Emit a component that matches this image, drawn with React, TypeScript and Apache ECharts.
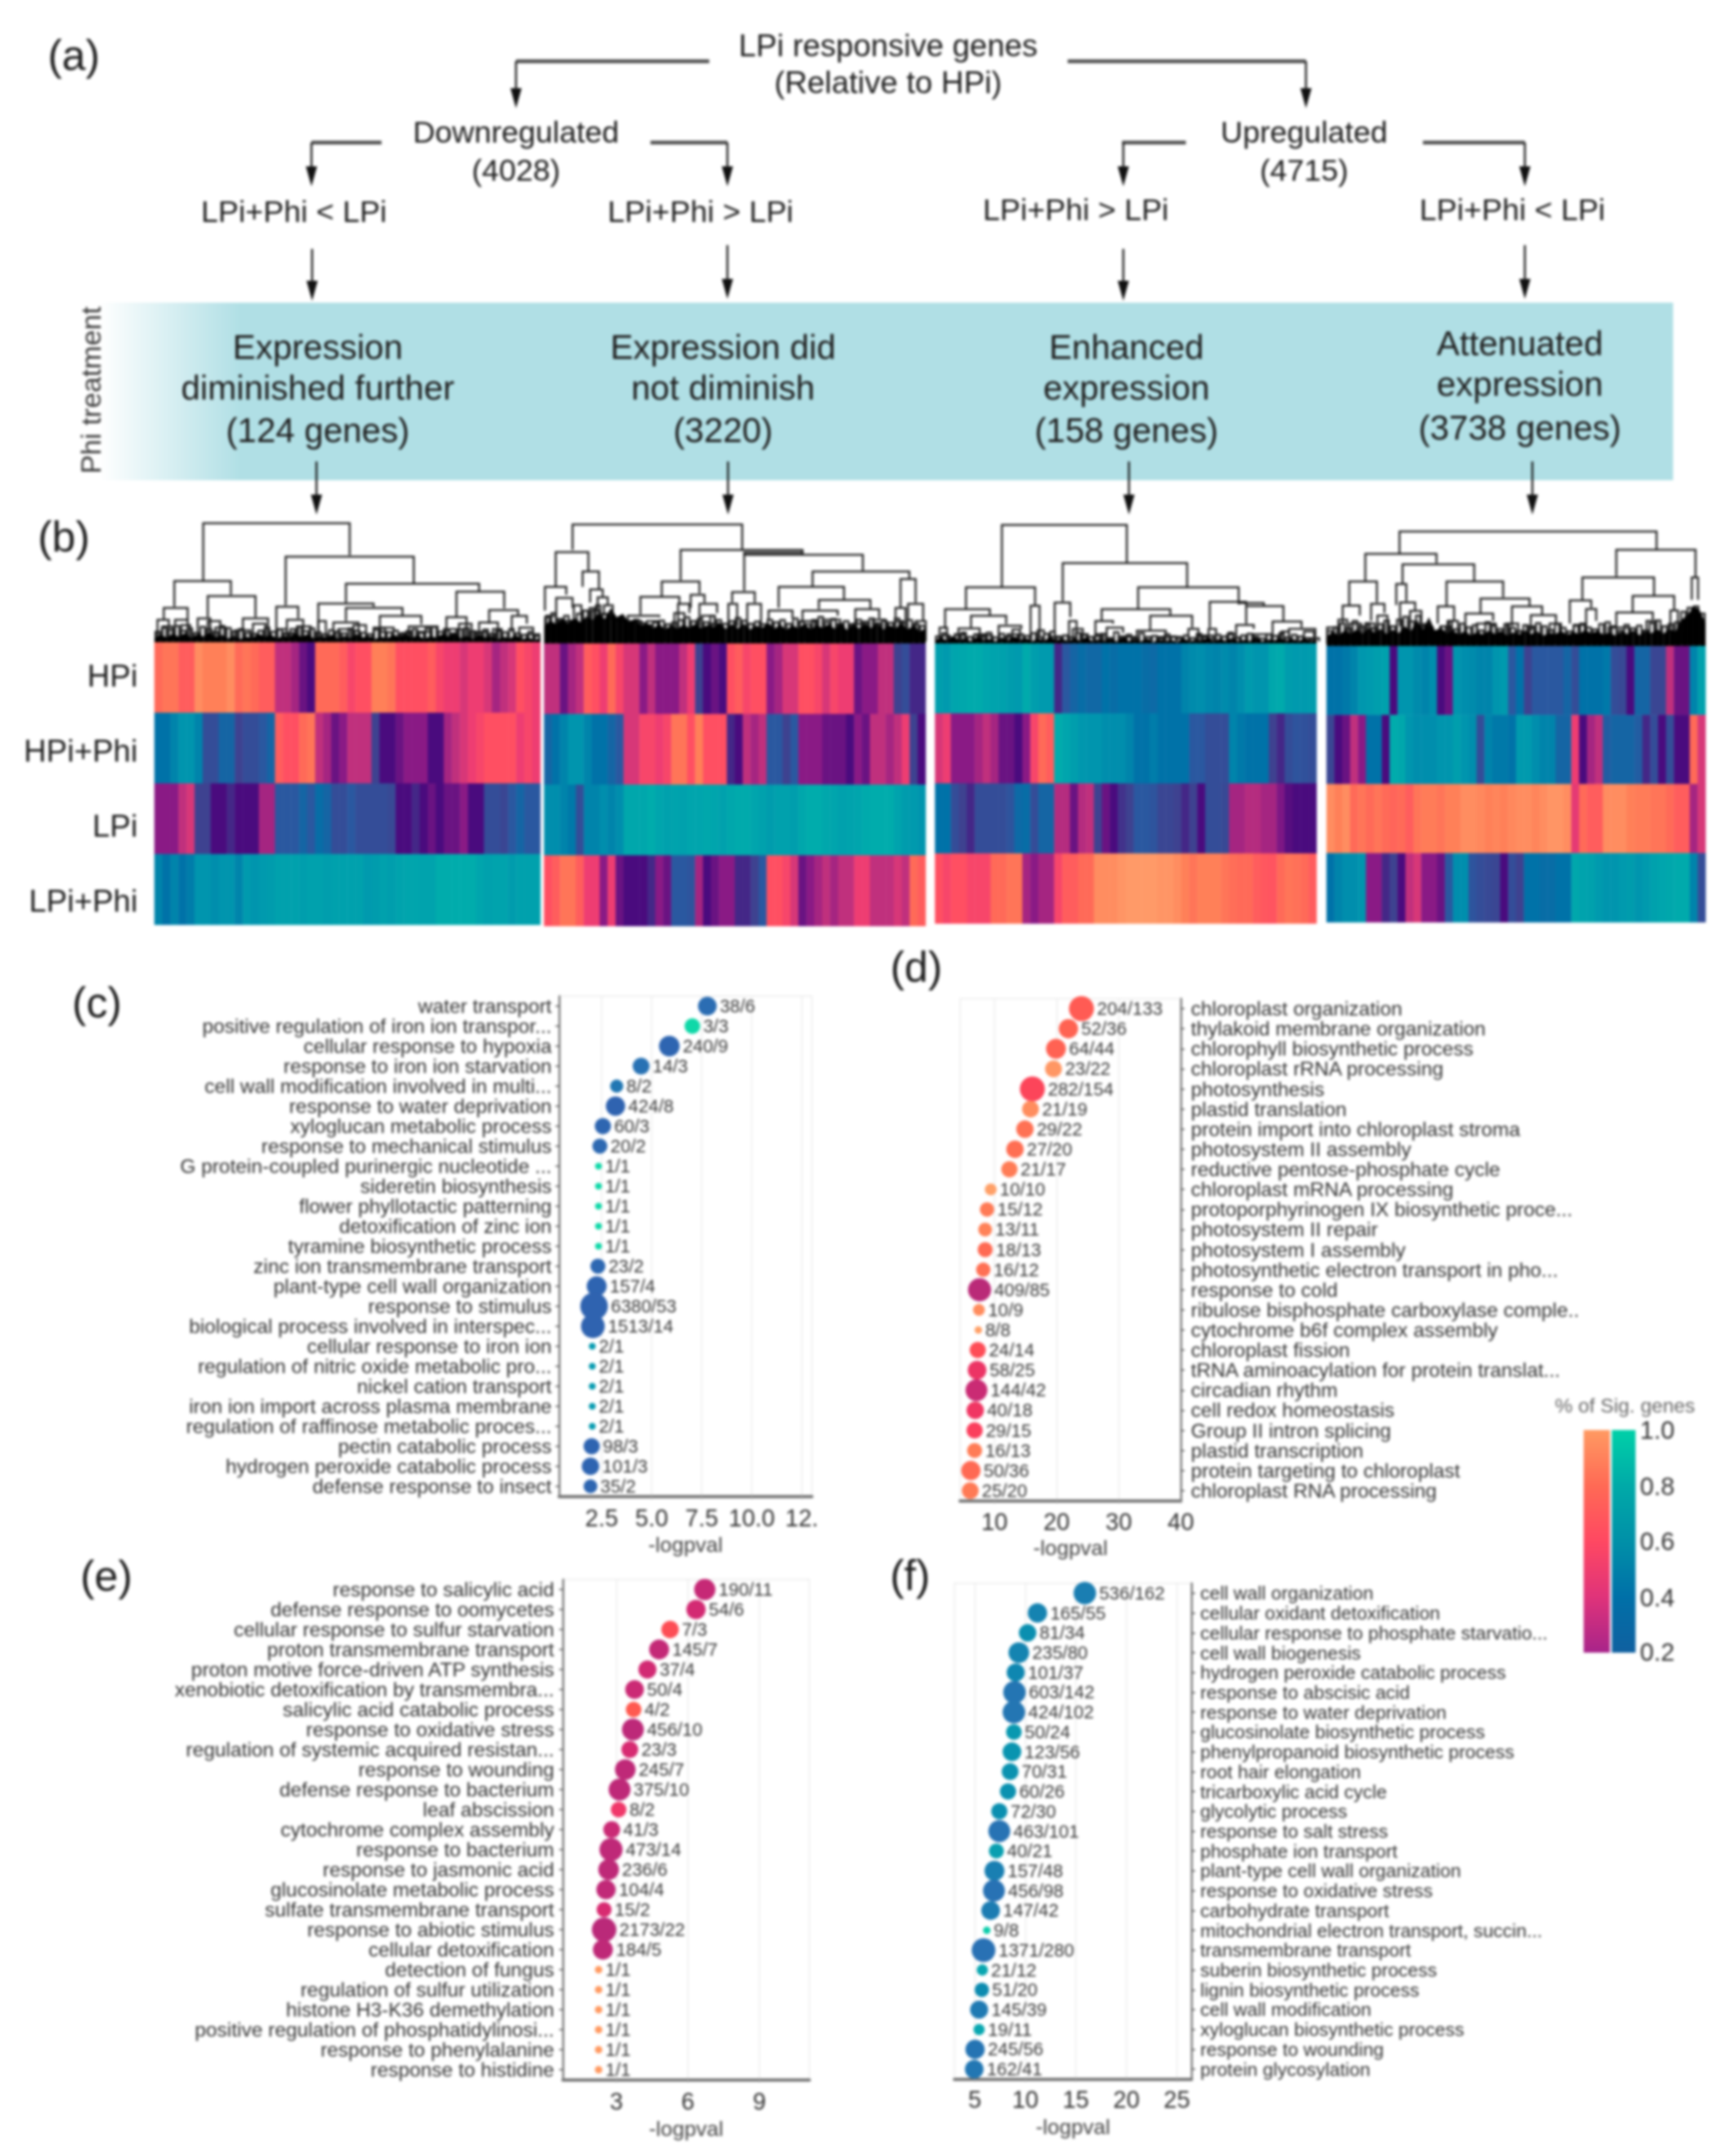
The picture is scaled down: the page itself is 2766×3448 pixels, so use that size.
import React, { useEffect, useRef } from "react";
import * as echarts from "echarts";

const FONT = '"Liberation Sans", Arial, sans-serif';
const rowNames = ["HPi", "HPi+Phi", "LPi", "LPi+Phi"];

// ---- heatmap strips (expression scale 0 teal ... 12 light orange), 48 strips per panel
const p1HPi = [10,10.5,10.5,9.5,9.5,11.5,11,11,11,11.5,10,10.5,10,9.5,9.5,7,7,6.5,5.5,5,10,10,10,9.5,8.5,9,9,11,11,10.5,9,9,9,9,9.5,8.5,8,8,7.5,8,8,7.5,6.5,7,7.5,9,8.5,8];
const p1HPiPhi = [2,2,1.5,1,1,1.5,3.5,3.5,2.5,2.5,4,3.5,3.5,3,2.5,9.5,9,9,10,10.5,7,6.5,5.5,6,7,7,7,4,5,5,5.5,6,6,6,5,5,6.5,7,7.5,8,8.5,9,9,9,9,8,8.5,8];
const p1LPi = [6,6,6,7,7.5,4,4,5,5,4.5,5,5,5,6.5,6.5,3,3,3,2.5,3,2.2,2.5,3.5,3.5,3,3.5,3.5,3.5,3.5,3.7,5,5,4.5,5,5.5,5,5.5,5.5,6,5,5,3.5,3.5,3.8,3,2.5,3,3];
const p1LPiPhi = [1.5,2,1.5,2,1.7,1,1,1.2,1,1,1.5,0.8,1,0.8,0.7,0.5,0.5,0.5,0.6,0.5,0.5,0.6,0.5,0.5,0.5,0.5,0.8,0.7,0.5,0.6,0.4,0.3,0.3,0.4,0.4,0,0,0,0,0,0.3,0.5,0.4,0.4,0.7,0.5,0.5,0.5];

const p2HPi = [7,7,5.5,6.5,7,9.5,9,8,10,8.5,7.5,7.5,6,7,6,6,6,7,8,4,5,5.5,5,9,9.5,8.5,9,9,6,6.5,7.5,7.5,9,9,8.5,7.5,8.5,8,8,5.5,6,6,7,7,4,3.5,4.5,4.5];
const p2HPiPhi = [2.5,2,1.5,1,1,1.5,2,2,2.5,3,7.5,7.5,8.5,8.5,8,8.5,10.5,10.5,9,11,9,9,9,4.5,5,7,6.5,7,3,3,4,3,6,6,6,5.5,5.5,5.5,5,6,5.5,7,7,6.5,7,8,4,5];
const p2LPi = [1.2,1.2,1.5,1.8,3.5,1.5,1.5,1.2,1.5,1.2,0.2,0.2,0.2,0,0.3,0.5,0.4,0.5,0.3,0.3,0.2,0.3,0.5,0.2,0.1,0.1,0.3,0.5,0.7,0.5,0.5,0.6,0.2,0,0,0.2,0.3,0.5,0.4,0.3,0.1,0,0,0,0.4,0.7,0.8,1];
const p2LPiPhi = [9,9.5,10.5,10.5,9.5,8,8,6,8,5.5,5,5,5,4.5,6,5.5,3,3,3.2,6.5,5,5.5,6,6,4.5,4.5,4,3,9,9,8.5,7.5,5.5,6,6.5,7,6.5,7,7,8,8,7,7,7,7.5,7,10,9.5];

const p3HPi = [0.6,0.8,0.3,0.2,0.1,0.1,0.3,0.4,0.5,0.7,0.8,0.1,0.6,0.8,0.8,4.5,3,2.5,2.2,2.4,2.4,2,2.2,2,2,2,2.2,2.3,2,2,2,1.5,1.3,1.2,1.4,1.5,1.3,1.5,1.2,0.8,1,1,0.2,0.1,0.7,0.8,0.8,0.7];
const p3HPiPhi = [7.5,8,6,6,6,6.5,7,6.5,5.5,5.5,5,6,8.5,10,9.5,0,0.3,0.6,0.9,1,1,1.2,1.2,1.2,1.5,2,2,1.7,2,2,2,2,3,3,3.5,3.5,3.5,1.5,1.8,2,2,2,4,4.5,3.5,3.2,3.3,3.5];
const p3LPi = [2,2,3.5,4,4.5,3.5,3.5,3.5,3.5,3.2,2.3,2.2,3.5,2.5,2.5,6.8,6.8,5.5,6.8,7,4,5.5,5,4.3,4,3,3,3.2,3.8,3.8,4,4.5,4,5,3.5,3.5,3.7,6.5,6.5,6.8,6.8,6.5,6.5,5.8,5.2,5,5,5];
const p3LPiPhi = [9,8.5,9,9,8.5,8.5,8.5,10,10,10.5,10.5,6.5,6,6.5,6.5,8.5,9.5,9.5,10,10,11.5,11.5,11.5,11.8,12,12,12,12,11.8,11.8,11.5,11,10.5,11,11,11,10.5,10.2,10,10,9.5,9.3,9.2,10,10.5,10.3,10,9.5];

const p4HPi = [2,2,1.8,1.5,0.9,0.8,0.6,0.5,5,1,1,1.3,1.5,1.2,5,5.5,1,1.2,1.3,1.5,1.5,1,0.8,3,2,4,3,3,3,3,2.5,3.5,2,2,2,1.8,3.5,3.7,5,2.5,2.5,3.8,3.8,7,5.5,5.5,1.5,0.5];
const p4HPiPhi = [3.8,5,5.5,7,6,2,2,5,0,0.2,1,1.2,1.2,1.2,1,1,0.6,1,1.2,3.5,1.5,1.8,1.8,2,0.8,0.8,1.2,1.5,1.5,2.5,2.5,8,5,6.5,7,2.8,2.5,2.5,2.5,2.8,4.5,3.5,5,3.5,5,5,10,7.5];
const p4LPi = [11.5,11,11.5,10,10.5,10,10.5,10,9.8,10,9.5,10.5,10.8,10.8,10.5,11,11,11.5,11.5,11.3,11,11.2,11,11.3,11.5,11.5,11.2,11.5,11.8,11.8,11.5,7.8,10,9.5,9.5,11.5,11.5,11.5,11,10.8,10.8,10.5,10.5,10,9.5,9.5,6.5,7.5];
const p4LPiPhi = [2,1.5,1.2,1.2,1,6,6,4.5,4,5,7,7.5,6,6,5.5,3,1.2,1.2,3.2,3.5,3.7,3.8,5,3.5,4,2,2,2.2,2.2,2,2,0.2,0.4,0.5,0.8,1,1,0.8,0.7,1,0.8,0.5,0.3,0.2,0.1,0.1,1.5,3.5];

const heatColors = ["#00acac","#0095ae","#0072a8","#2a58a0","#3e4290","#4a0b7e","#8a1a85","#c0307d","#ee3d72","#ff4f62","#ff6a58","#ff8058","#ff9a68"];

// ---- dendrograms: merges [leftLeaf, rightLeaf, mergeDepth, leftDrop, rightDrop]
const d1Links = [[212,795,28,245,150],[97,322,248,345,300],[230,420,305,385,385],[55,150,350,395,395],[540,1050,155,340,258],[503,590,345,460,390],[780,1310,258,330,285],[670,890,333,460,345],[780,1005,350,400,378],[915,1080,380,440,412],[1220,1410,288,385,352],[1350,1465,358,410,380],[1440,1500,380,440,410]];
const d1Forks = [[30,75,395],[100,150,395],[50,90,420],[125,160,415],[190,240,390],[230,280,400],[260,305,425],[340,400,435],[370,470,390],[410,460,410],[505,545,430],[545,610,395],[525,570,445],[590,640,420],[670,700,400],[730,830,405],[750,800,430],[810,860,415],[890,970,425],[915,940,440],[1030,1145,420],[1060,1120,440],[1000,1040,445],[1180,1260,385],[1170,1220,430],[1230,1280,410],[1310,1385,405],[1290,1340,440],[1365,1400,430],[1470,1525,425],[1500,1550,450]];
const d1Twigs = [440,425,432,418,436,428,445,422,430,440,418,426,438,430,445,448,436,425,440,432,446,430,420,438,428,442,450,434,440,446,428,436,444,450,432,426,442,436,448,438,430,444,428,422,440,434,446,430,426,438,444,432,448,436,442,430,446,452,440,456];
const d1Mass = [466,452,462,448,460,445,464,450,458,444,462,452,466,456,468,460,464,448,460,452,466,456,462,446,460,450,466,458,462,452,468,456,464,450,462,456,468,460,466,452,460,448,464,454,468,458,462,450,458,446,464,456,468,452,462,456,470,460,466,454,470,462,472,464];

const d2Links = [[125,800,33,130,128],[58,188,138,270,210],[165,230,212,270,280],[15,100,270,360,300],[60,125,312,380,350],[195,245,280,330,310],[225,265,310,360,340],[250,285,340,380,365],[555,1040,130,245,145],[808,1280,148,285,208],[808,1040,140,148,148],[480,630,250,305,295],[395,550,308,375,335],[545,590,335,400,370],[595,650,300,350,330],[630,700,335,420,370],[345,470,380,430,385],[760,850,290,330,330],[745,780,335,420,420],[820,875,335,420,420],[1080,1465,212,268,240],[945,1205,270,350,318],[1105,1310,320,355,352],[1430,1490,240,350,330],[905,1000,360,400,390],[1040,1180,360,400,380],[1250,1345,355,410,390],[1410,1450,350,400,400],[1460,1520,335,400,400]];
const d2Forks = [[20,60,380],[60,110,400],[130,160,340],[200,230,360],[350,400,400],[420,470,400],[530,570,370],[640,690,380],[680,710,410],[1030,1090,400],[1120,1190,395],[1240,1290,410],[1320,1370,395],[1410,1440,400],[1490,1530,400]];
const d2Twigs = [385,370,392,380,398,372,360,350,340,372,388,396,402,410,395,408,415,405,398,412,404,396,385,400,392,404,380,396,410,400,388,398,410,402,412,395,404,396,410,390,402,412,396,384,405,392,410,400,412,395,402,390,408,398,406,390,404,396,410,418];
const d2Mass = [420,398,412,392,410,388,405,382,396,370,392,350,385,372,405,395,418,408,428,412,432,416,430,414,426,410,428,415,424,408,430,412,428,410,432,418,426,406,430,414,434,416,428,410,432,416,426,412,430,408,434,414,428,412,426,408,432,416,428,410,432,418,440,428];

const d3Links = [[278,775,35,270,178],[135,410,272,352,340],[52,230,355,430,378],[155,295,380,425,412],[265,355,418,460,430],[392,428,342,460,460],[520,1015,180,325,270],[488,550,330,455,385],[820,1220,272,352,325],[675,948,355,400,380],[868,1035,380,435,425],[650,720,400,470,410],[695,760,425,470,445],[1105,1250,327,425,345],[1250,1398,343,410,400],[1220,1320,331,337,343],[1210,1280,415,460,430],[1355,1470,402,460,425],[1420,1525,430,470,460]];
const d3Forks = [[30,60,425],[105,190,428],[180,215,450],[320,350,432],[420,445,435],[545,575,400],[560,600,430],[590,620,450],[815,930,436],[1020,1060,430],[1100,1130,430],[1175,1210,450],[1390,1420,440],[1480,1520,440],[40,70,455],[90,130,450],[200,240,455],[300,340,450],[470,510,460],[650,680,450],[760,810,460],[900,990,460],[1060,1120,455],[1280,1330,450],[1500,1540,465]];
const d3Twigs = [458,446,462,452,444,460,450,456,444,462,448,458,464,450,456,446,462,448,440,458,454,462,444,452,460,456,448,464,442,458,452,464,446,460,456,466,450,458,462,454,464,448,460,466,452,458,444,462,454,448,460,466,450,456,446,462,452,458,464,468];
const d3Mass = [474,462,476,458,474,466,478,460,474,468,478,462,476,458,474,464,478,466,476,460,474,468,478,466,476,460,478,470,476,466,478,462,476,470,478,466,480,470,478,472,480,466,478,472,476,462,478,468,476,464,478,472,476,462,478,470,474,466,476,468,478,464,478,470];

const d4Links = [[318,1340,60,145,128],[182,465,145,250,180],[330,615,185,260,250],[118,228,250,340,330],[92,160,342,410,380],[205,258,335,400,370],[505,730,250,345,310],[640,835,315,370,345],[305,345,260,340,325],[320,380,330,420,360],[360,405,362,440,410],[470,535,345,410,400],[580,690,372,430,400],[765,885,345,420,380],[840,940,378,440,410],[1180,1495,130,230,235],[1045,1330,235,320,305],[1245,1410,305,365,360],[1180,1325,368,430,395],[995,1080,322,410,350],[1060,1100,355,420,400],[1480,1505,235,320,320],[1395,1425,360,430,430]];
const d4Forks = [[30,70,425],[75,110,395],[120,165,410],[190,220,410],[230,270,380],[400,430,420],[480,520,420],[515,550,400],[625,700,410],[745,790,410],[825,860,420],[915,960,410],[1010,1060,415],[1150,1230,425],[1300,1340,400]];
const d4Twigs = [438,424,410,428,400,420,408,426,412,398,420,395,384,402,380,412,425,438,420,400,432,410,424,416,436,405,418,430,412,426,438,416,428,408,420,434,412,426,440,418,410,425,432,412,405,420,436,415,428,418,436,408,398,420,412,405,365,350,345,372];
const d4Mass = [462,440,456,436,450,432,448,428,446,430,450,434,446,420,440,395,435,385,438,425,448,436,452,438,456,442,452,436,450,438,456,444,452,436,450,440,456,446,450,438,454,442,450,434,448,438,452,444,456,440,450,436,454,440,446,432,448,430,440,395,378,345,358,410];

// ---- dot plot (c)
const cTerms = ["water transport","positive regulation of iron ion transpor...","cellular response to hypoxia","response to iron ion starvation","cell wall modification involved in multi...","response to water deprivation","xyloglucan metabolic process","response to mechanical stimulus","G protein-coupled purinergic nucleotide ...","sideretin biosynthesis","flower phyllotactic patterning","detoxification of zinc ion","tyramine biosynthetic process","zinc ion transmembrane transport","plant-type cell wall organization","response to stimulus","biological process involved in interspec...","cellular response to iron ion","regulation of nitric oxide metabolic pro...","nickel cation transport","iron ion import across plasma membrane","regulation of raffinose metabolic proces...","pectin catabolic process","hydrogen peroxide catabolic process","defense response to insect"];
const cLogp = [7.78,7.03,5.88,4.47,3.25,3.19,2.56,2.41,2.34,2.34,2.34,2.34,2.34,2.31,2.25,2.12,2.06,2.03,2.03,2.03,2.03,2.03,2.0,1.94,1.94];
const cCounts = ["38/6","3/3","240/9","14/3","8/2","424/8","60/3","20/2","1/1","1/1","1/1","1/1","1/1","23/2","157/4","6380/53","1513/14","2/1","2/1","2/1","2/1","2/1","98/3","101/3","35/2"];
const cSizes = [30,25,33,27,21,31,26,24,11,11,11,11,11,24,32,44,38,11,11,11,11,11,26,28,22];
const cTicks = [2.5,5,7.5,10,12.5];
const cTickLabels = ["2.5","5.0","7.5","10.0","12."];

// ---- dot plot (d)
const dTerms = ["chloroplast organization","thylakoid membrane organization","chlorophyll biosynthetic process","chloroplast rRNA processing","photosynthesis","plastid translation","protein import into chloroplast stroma","photosystem II assembly","reductive pentose-phosphate cycle","chloroplast mRNA processing","protoporphyrinogen IX biosynthetic proce...","photosystem II repair","photosystem I assembly","photosynthetic electron transport in pho...","response to cold","ribulose bisphosphate carboxylase comple..","cytochrome b6f complex assembly","chloroplast fission","tRNA aminoacylation for protein translat...","circadian rhythm","cell redox homeostasis","Group II intron splicing","plastid transcription","protein targeting to chloroplast","chloroplast RNA processing"];
const dLogp = [24.0,21.9,19.9,19.5,16.1,15.8,14.9,13.3,12.4,9.4,8.8,8.5,8.5,8.2,7.6,7.5,7.4,7.3,7.2,7.1,6.9,6.8,6.8,6.2,6.1];
const dCounts = ["204/133","52/36","64/44","23/22","282/154","21/19","29/22","27/20","21/17","10/10","15/12","13/11","18/13","16/12","409/85","10/9","8/8","24/14","58/25","144/42","40/18","29/15","16/13","50/36","25/20"];
const dSizes = [40,31,32,27,40,27,28,28,26,19,23,22,24,23,37,19,12,26,30,35,28,26,24,31,27];
const dTicks = [10,20,30,40];
const dTickLabels = ["10","20","30","40"];

// ---- dot plot (e)
const eTerms = ["response to salicylic acid","defense response to oomycetes","cellular response to sulfur starvation","proton transmembrane transport","proton motive force-driven ATP synthesis","xenobiotic detoxification by transmembra...","salicylic acid catabolic process","response to oxidative stress","regulation of systemic acquired resistan...","response to wounding","defense response to bacterium","leaf abscission","cytochrome complex assembly","response to bacterium","response to jasmonic acid","glucosinolate metabolic process","sulfate transmembrane transport","response to abiotic stimulus","cellular detoxification","detection of fungus","regulation of sulfur utilization","histone H3-K36 demethylation","positive regulation of phosphatidylinosi...","response to phenylalanine","response to histidine"];
const eLogp = [6.71,6.34,5.25,4.79,4.30,3.76,3.72,3.69,3.56,3.37,3.13,3.09,2.80,2.77,2.67,2.56,2.48,2.48,2.43,2.25,2.25,2.25,2.25,2.25,2.25];
const eCounts = ["190/11","54/6","7/3","145/7","37/4","50/4","4/2","456/10","23/3","245/7","375/10","8/2","41/3","473/14","236/6","104/4","15/2","2173/22","184/5","1/1","1/1","1/1","1/1","1/1","1/1"];
const eSizes = [34,31,28,32,29,30,25,35,27,33,35,25,27,37,33,31,24,39,32,12,12,12,12,12,12];
const eTicks = [3,6,9];
const eTickLabels = ["3","6","9"];

// ---- dot plot (f)
const fTerms = ["cell wall organization","cellular oxidant detoxification","cellular response to phosphate starvatio...","cell wall biogenesis","hydrogen peroxide catabolic process","response to abscisic acid","response to water deprivation","glucosinolate biosynthetic process","phenylpropanoid biosynthetic process","root hair elongation","tricarboxylic acid cycle","glycolytic process","response to salt stress","phosphate ion transport","plant-type cell wall organization","response to oxidative stress","carbohydrate transport","mitochondrial electron transport, succin...","transmembrane transport","suberin biosynthetic process","lignin biosynthetic process","cell wall modification","xyloglucan biosynthetic process","response to wounding","protein glycosylation"];
const fLogp = [15.89,11.2,10.23,9.36,9.05,8.93,8.87,8.87,8.68,8.5,8.29,7.43,7.43,7.14,6.95,6.9,6.57,6.19,5.87,5.75,5.7,5.43,5.43,5.03,4.95];
const fCounts = ["536/162","165/55","81/34","235/80","101/37","603/142","424/102","50/24","123/56","70/31","60/26","72/30","463/101","40/21","157/48","456/98","147/42","9/8","1371/280","21/12","51/20","145/39","19/11","245/56","162/41"];
const fSizes = [36,31,28,33,29,36,36,25,30,27,26,26,35,24,32,35,30,12,38,18,23,29,18,31,30];
const fTicks = [5,10,15,20,25];
const fTickLabels = ["5","10","15","20","25"];

// colour scales of the fraction of significant genes
const coolScale = ["#2f62b0","#2a70b4","#0a8cb0","#08aab0","#08c4ae","#10d8a8"];
const warmScaleD = ["#b82a78","#cc2b74","#e63068","#fa3c5e","#ff5056","#ff6552","#ff7a55","#ff8c5e","#ffa068"];
const warmScaleE = ["#b8297a","#d62a72","#f0386a","#fb4458","#ff5a50","#ff6a52","#ff7a55","#ff8a5c","#ff9a62"];
const legendTicks = ["1.0","0.8","0.6","0.4","0.2"];

function txt(text: string, x: number, y: number, size: number, extra: any = {}) {
  return {
    type: "text", x, y, silent: true,
    style: { text, fill: extra.fill || "#1e1e1e", font: `${size}px ${FONT}`, textAlign: extra.align || "center", textVerticalAlign: "middle" },
    rotation: extra.rotation || 0,
  };
}
function hline(x1: number, x2: number, y: number, w = 6, c = "#505050") {
  return { type: "line", silent: true, shape: { x1, y1: y, x2, y2: y }, style: { stroke: c, lineWidth: w } };
}
function arrow(x: number, y1: number, y2: number) {
  return [
    { type: "line", silent: true, shape: { x1: x, y1, x2: x, y2: y2 - 20 }, style: { stroke: "#111", lineWidth: 3 } },
    { type: "polygon", silent: true, shape: { points: [[x - 9, y2 - 32], [x + 9, y2 - 32], [x, y2]] }, style: { fill: "#111" } },
  ];
}

const panels = [
  { rows: [p1HPi, p1HPiPhi, p1LPi, p1LPiPhi], links: d1Links, forks: d1Forks, twigs: d1Twigs, mass: d1Mass, x0: 247, x1: 864, yHeat0: 1027, yHeat1: 1479, leaf0: 18, leaf1: 1554, base: 480 },
  { rows: [p2HPi, p2HPiPhi, p2LPi, p2LPiPhi], links: d2Links, forks: d2Forks, twigs: d2Twigs, mass: d2Mass, x0: 870, x1: 1480, yHeat0: 1029, yHeat1: 1481, leaf0: 12, leaf1: 1530, base: 485 },
  { rows: [p3HPi, p3HPiPhi, p3LPi, p3LPiPhi], links: d3Links, forks: d3Forks, twigs: d3Twigs, mass: d3Mass, x0: 1495, x1: 2105, yHeat0: 1029, yHeat1: 1477, leaf0: 12, leaf1: 1530, base: 485 },
  { rows: [p4HPi, p4HPiPhi, p4LPi, p4LPiPhi], links: d4Links, forks: d4Forks, twigs: d4Twigs, mass: d4Mass, x0: 2121, x1: 2727, yHeat0: 1033, yHeat1: 1475, leaf0: 28, leaf1: 1535, base: 495 },
];

const dots = [
  { terms: cTerms, logp: cLogp, counts: cCounts, sizes: cSizes, ticks: cTicks, tickLabels: cTickLabels, left: 894, right: 1298, top: 1593, bottom: 2393, min: 0.375, max: 13, side: "left", colors: coolScale, vmin: 0, vmax: 1, gap: 60, margin: 16, termMargin: 12, termSize: 32 },
  { terms: dTerms, logp: dLogp, counts: dCounts, sizes: dSizes, ticks: dTicks, tickLabels: dTickLabels, left: 1535, right: 1888, top: 1597, bottom: 2400, min: 4.46, max: 40, side: "right", colors: warmScaleD, vmin: 0.2, vmax: 1, gap: 58, margin: 15, termMargin: 16, termSize: 32 },
  { terms: eTerms, logp: eLogp, counts: eCounts, sizes: eSizes, ticks: eTicks, tickLabels: eTickLabels, left: 900, right: 1294, top: 2526, bottom: 3326, min: 0.75, max: 11.1, side: "left", colors: warmScaleE, vmin: 0, vmax: 1, gap: 61, margin: 16, termMargin: 14, termSize: 32 },
  { terms: fTerms, logp: fLogp, counts: fCounts, sizes: fSizes, ticks: fTicks, tickLabels: fTickLabels, left: 1526, right: 1905, top: 2532, bottom: 3325, min: 2.99, max: 26.44, side: "right", colors: coolScale, vmin: 0, vmax: 1, gap: 59, margin: 14, termMargin: 14, termSize: 30 },
];

function buildOption() {
  const grid: any[] = [], xAxis: any[] = [], yAxis: any[] = [], series: any[] = [], visualMap: any[] = [];
  const heatIdx: number[] = [];

  panels.forEach((p) => {
    // heatmap
    const g = grid.length;
    grid.push({ left: p.x0, width: p.x1 - p.x0, top: p.yHeat0, height: p.yHeat1 - p.yHeat0 });
    const cats = p.rows[0].map((_, i) => String(i));
    xAxis.push({ type: "category", gridIndex: g, data: cats, show: false });
    yAxis.push({ type: "category", gridIndex: g, data: rowNames, inverse: true, show: false });
    const data: number[][] = [];
    p.rows.forEach((row, r) => row.forEach((v, c) => data.push([c, r, v])));
    heatIdx.push(series.length);
    series.push({ type: "heatmap", xAxisIndex: g, yAxisIndex: g, data, silent: true, progressive: 0, emphasis: { disabled: true } });

    // dendrogram
    const gd = grid.length;
    const topPx = p.yHeat0 - (p.base * 660) / 1568;
    grid.push({ left: p.x0, width: p.x1 - p.x0, top: topPx, height: p.yHeat0 - topPx });
    xAxis.push({ type: "value", gridIndex: gd, min: p.leaf0, max: p.leaf1, show: false, splitLine: { show: false } });
    yAxis.push({ type: "value", gridIndex: gd, min: 0, max: p.base, inverse: true, show: false, splitLine: { show: false } });

    const twigStep = (p.leaf1 - p.leaf0) / p.twigs.length;
    const bottom = p.base - 8;
    const links = p.links
      .concat(p.forks.map((f) => [f[0], f[1], f[2], bottom, bottom]))
      .concat(p.twigs.map((t, i) => {
        const left = p.leaf0 + i * twigStep + twigStep * 0.15;
        return [left, left + twigStep * 0.7, t, bottom, bottom];
      }));
    series.push({
      type: "custom", xAxisIndex: gd, yAxisIndex: gd, silent: true, clip: false, data: links,
      renderItem: (_: any, api: any) => {
        const a = api.coord([api.value(0), api.value(3)]);
        const b = api.coord([api.value(0), api.value(2)]);
        const c = api.coord([api.value(1), api.value(2)]);
        const d = api.coord([api.value(1), api.value(4)]);
        return { type: "polyline", shape: { points: [a, b, c, d] }, style: { stroke: "#1c1c1c", lineWidth: 3, fill: null } };
      },
    });
    const step = (p.leaf1 - p.leaf0) / (p.mass.length - 1);
    series.push({
      type: "custom", xAxisIndex: gd, yAxisIndex: gd, silent: true, clip: false,
      data: p.mass.map((m, i) => [p.leaf0 + i * step, m]),
      renderItem: (params: any, api: any) => {
        const i = params.dataIndex;
        if (i >= p.mass.length - 1) return null;
        const x = p.leaf0 + i * step;
        const pts = [
          api.coord([x, p.base]),
          api.coord([x, p.mass[i]]),
          api.coord([x + step, p.mass[i + 1]]),
          api.coord([x + step, p.base]),
        ];
        return { type: "polygon", shape: { points: pts }, style: { fill: "#000" } };
      },
    });
  });

  visualMap.push({ type: "continuous", show: false, min: 0, max: 12, dimension: 2, seriesIndex: heatIdx, inRange: { color: heatColors } });

  dots.forEach((d) => {
    const g = grid.length;
    grid.push({ left: d.left, width: d.right - d.left, top: d.top, height: d.bottom - d.top, show: true, borderColor: "#ececec", borderWidth: 2, backgroundColor: "transparent" });
    xAxis.push({
      type: "value", gridIndex: g, min: d.min, max: d.max,
      name: "-logpval", nameLocation: "middle", nameGap: d.gap,
      nameTextStyle: { fontFamily: FONT, fontSize: 34, color: "#444" },
      axisLine: { show: true, lineStyle: { color: "#707070", width: 5 } },
      axisTick: { show: true, customValues: d.ticks, length: 4, lineStyle: { color: "#999", width: 2 } },
      axisLabel: {
        show: true, customValues: d.ticks, margin: d.margin, color: "#333", fontFamily: FONT, fontSize: 38,
        formatter: (v: number) => d.tickLabels[d.ticks.indexOf(v)] ?? "",
      },
      splitLine: { show: true, customValues: d.ticks, lineStyle: { color: "#ececec", width: 2 } },
    });
    yAxis.push({
      type: "category", gridIndex: g, data: d.terms, inverse: true, position: d.side,
      axisLine: { show: true, lineStyle: { color: "#707070", width: 3 } },
      axisTick: { show: true, alignWithLabel: true, length: 6, lineStyle: { color: "#555", width: 2 } },
      axisLabel: { show: true, interval: 0, margin: d.termMargin, color: "#333", fontFamily: FONT, fontSize: d.termSize },
      splitLine: { show: false },
    });
    const idx = series.length;
    series.push({
      type: "scatter", xAxisIndex: g, yAxisIndex: g, silent: true,
      data: d.logp.map((v, i) => {
        const [tot, sig] = d.counts[i].split("/").map(Number);
        return [v, d.terms[i], sig / tot];
      }),
      symbol: "circle",
      symbolSize: (_: any, params: any) => d.sizes[params.dataIndex],
      itemStyle: { opacity: 1 },
      label: {
        show: true, position: "right", distance: 5, color: "#3a3a3a", fontFamily: FONT, fontSize: 29,
        formatter: (params: any) => d.counts[params.dataIndex],
      },
    });
    visualMap.push({ type: "continuous", show: false, min: d.vmin, max: d.vmax, dimension: 2, seriesIndex: idx, inRange: { color: d.colors } });
  });

  const legendY = [2287, 2377, 2465, 2555, 2642];

  const graphicEls: any[] = [
    {
      type: "rect", silent: true, shape: { x: 159, y: 484, width: 2516, height: 284 },
      style: { fill: { type: "linear", x: 0, y: 0, x2: 1, y2: 0, colorStops: [{ offset: 0, color: "#ffffff" }, { offset: 0.09, color: "#b0dfe5" }, { offset: 1, color: "#b0dfe5" }] } },
    },
    txt("(a)", 118, 88, 68), txt("(b)", 102, 858, 68), txt("(c)", 155, 1603, 68), txt("(d)", 1465, 1546, 68), txt("(e)", 170, 2520, 68), txt("(f)", 1455, 2519, 68),
    txt("LPi responsive genes", 1420, 73, 50), txt("(Relative to HPi)", 1420, 132, 50),
    txt("Downregulated", 825, 211, 49), txt("(4028)", 825, 272, 49),
    txt("Upregulated", 2085, 211, 49), txt("(4715)", 2085, 272, 49),
    txt("LPi+Phi < LPi", 470, 338, 49), txt("LPi+Phi > LPi", 1120, 338, 49),
    txt("LPi+Phi > LPi", 1720, 335, 49), txt("LPi+Phi < LPi", 2418, 335, 49),
    txt("Phi treatment", 145, 624, 45, { rotation: Math.PI / 2, fill: "#3c3c3c" }),
    txt("Expression", 508, 555, 55), txt("diminished further", 508, 620, 55), txt("(124 genes)", 508, 688, 55),
    txt("Expression did", 1156, 555, 55), txt("not diminish", 1156, 620, 55), txt("(3220)", 1156, 688, 55),
    txt("Enhanced", 1801, 555, 55), txt("expression", 1801, 620, 55), txt("(158 genes)", 1801, 688, 55),
    txt("Attenuated", 2430, 549, 55), txt("expression", 2430, 614, 55), txt("(3738 genes)", 2430, 684, 55),
    hline(825, 1134, 98), hline(1707, 2088, 98),
    hline(498, 610, 228), hline(1040, 1163, 228), hline(1794, 1896, 228), hline(2275, 2438, 228),
    ...arrow(825, 98, 173), ...arrow(2088, 98, 173),
    ...arrow(498, 228, 298), ...arrow(1163, 228, 298), ...arrow(1796, 228, 298), ...arrow(2438, 228, 298),
    ...arrow(499, 398, 481), ...arrow(1163, 392, 478), ...arrow(1796, 398, 481), ...arrow(2438, 392, 478),
    ...arrow(506, 738, 823), ...arrow(1164, 738, 823), ...arrow(1805, 738, 823), ...arrow(2450, 738, 823),
    txt("HPi", 220, 1081, 50, { align: "right" }), txt("HPi+Phi", 220, 1201, 50, { align: "right" }),
    txt("LPi", 220, 1321, 50, { align: "right" }), txt("LPi+Phi", 220, 1441, 50, { align: "right" }),
    txt("% of Sig. genes", 2598, 2248, 32, { fill: "#666" }),
    {
      type: "rect", silent: true, shape: { x: 2532, y: 2287, width: 42, height: 356 },
      style: { fill: { type: "linear", x: 0, y: 0, x2: 0, y2: 1, colorStops: [{ offset: 0, color: "#ff9a62" }, { offset: 0.25, color: "#ff6a55" }, { offset: 0.5, color: "#ff4862" }, { offset: 0.75, color: "#e0337a" }, { offset: 1, color: "#a8248a" }] } },
    },
    {
      type: "rect", silent: true, shape: { x: 2577, y: 2287, width: 38, height: 356 },
      style: { fill: { type: "linear", x: 0, y: 0, x2: 0, y2: 1, colorStops: [{ offset: 0, color: "#00d0a8" }, { offset: 0.25, color: "#00aaa8" }, { offset: 0.5, color: "#0090a8" }, { offset: 0.75, color: "#0070a8" }, { offset: 1, color: "#1060a0" }] } },
    },
    ...legendTicks.map((t, i) => txt(t, 2622, legendY[i], 40, { align: "left", fill: "#333" })),
  ];

  return {
    animation: false,
    backgroundColor: "#ffffff",
    textStyle: { fontFamily: FONT },
    grid, xAxis, yAxis, series, visualMap,
    graphic: { elements: graphicEls },
  };
}

export default function App() {
  const ref = useRef<HTMLDivElement>(null);
  useEffect(() => {
    document.body.style.margin = "0";
    const chart = echarts.init(ref.current!, undefined, { renderer: "svg" });
    chart.setOption(buildOption() as any);
    return () => chart.dispose();
  }, []);
  return <div ref={ref} style={{ width: 2766, height: 3448, filter: "blur(2.2px)" }} />;
}
